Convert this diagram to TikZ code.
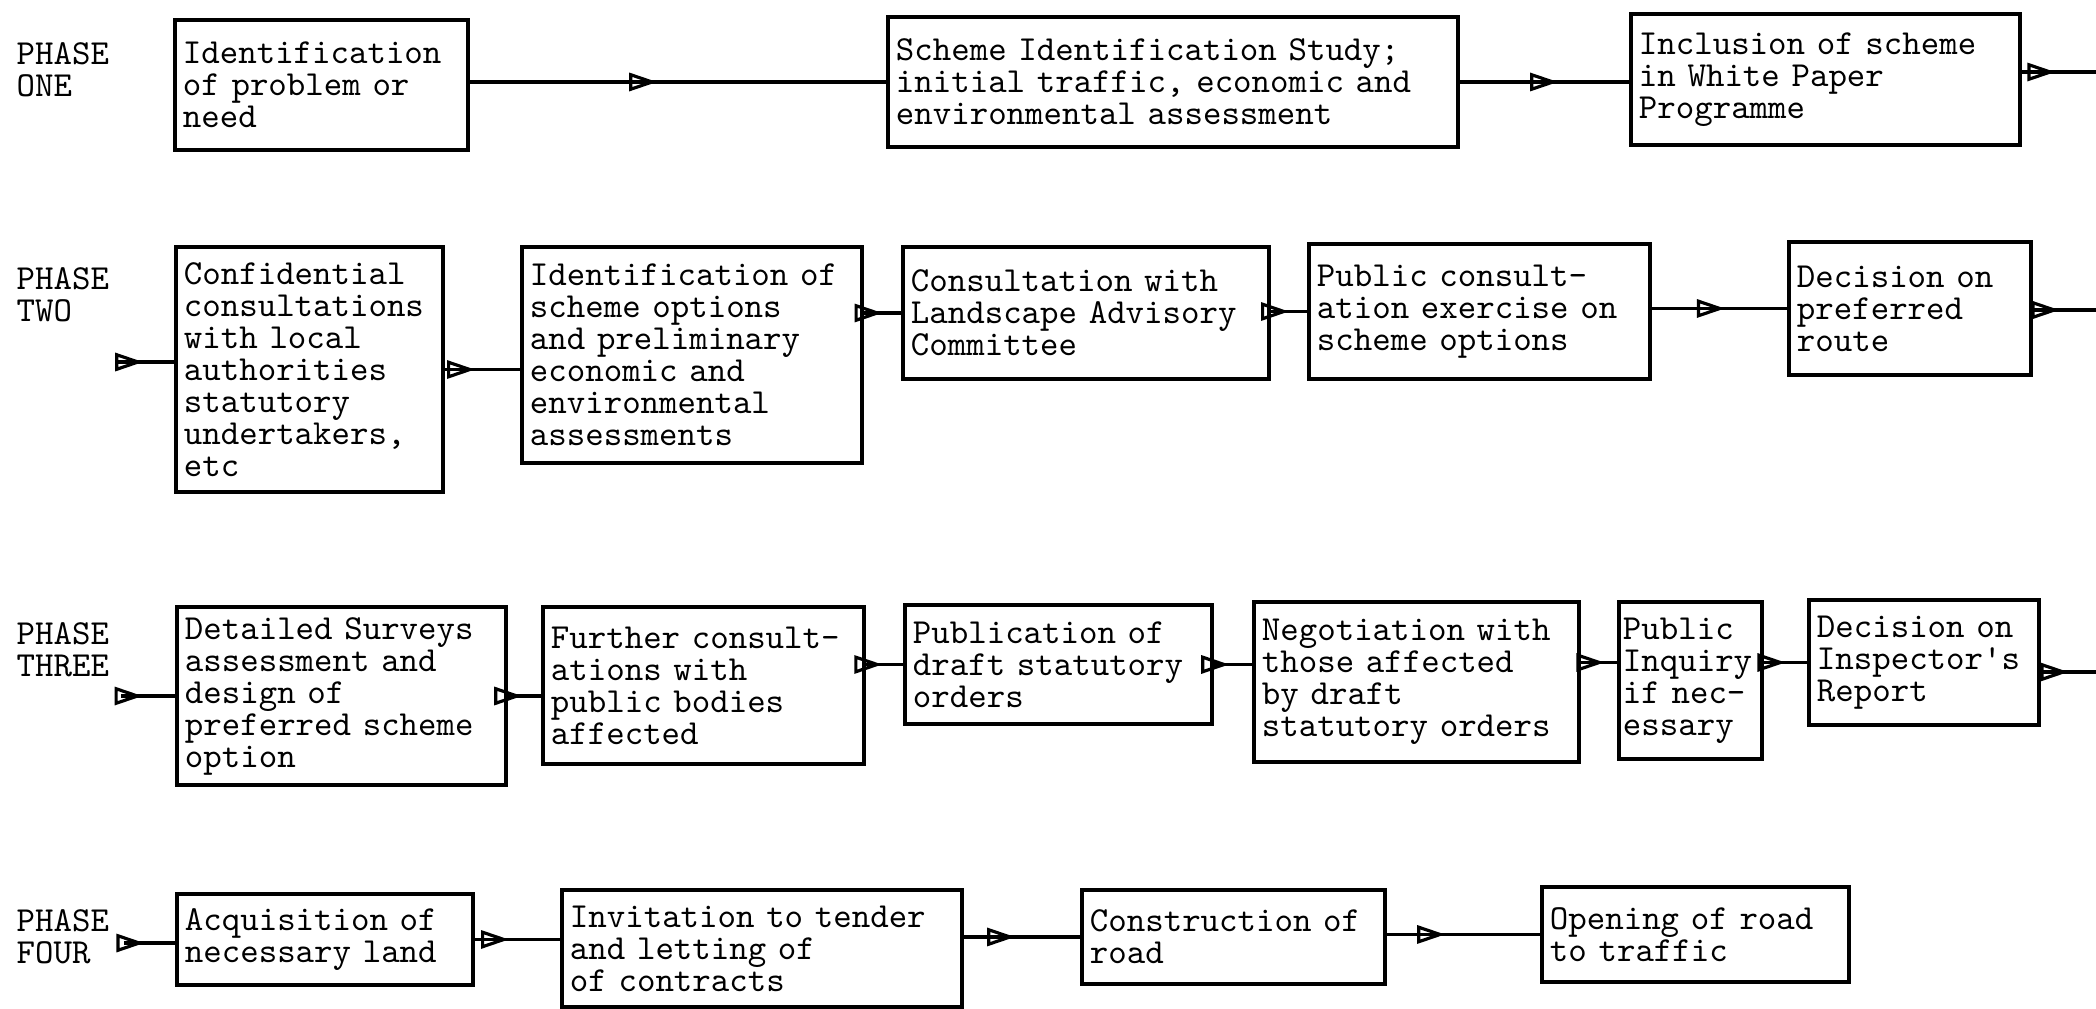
\documentclass[tikz,border=0pt]{standalone}
\usetikzlibrary{arrows.meta,decorations.markings}
\begin{document}
\begin{tikzpicture}[x=0.01cm,y=-0.01cm]
            \tikzset{
                stage box/.style={draw,line width=1.1pt,anchor=north west,align=left,inner xsep=0.08cm,inner ysep=0pt,font=\ttfamily\fontsize{10}{9.1}\selectfont},
                phase label/.style={anchor=north west,inner sep=0pt,align=left,font=\ttfamily\fontsize{10}{9.1}\selectfont},
                flow/.style={line width=1pt,postaction={decorate},decoration={markings,mark=at position #1 with {\arrow{Triangle[open,length=2.8mm,width=1.8mm,line width=0.9pt]}}}}
            }
            \useasboundingbox (0,0) rectangle (2096,1008);
            \node[phase label] (ph1) at (16,42) {PHASE\\ONE};
            \node[phase label] (ph2) at (16,267) {PHASE\\TWO};
            \node[phase label] (ph3) at (16,622) {PHASE\\THREE};
            \node[phase label] (ph4) at (16,909) {PHASE\\FOUR};
            \node[stage box, text width=2.77cm, minimum height=1.30cm] (p1a) at (173,18) {Identification\\of problem or\\need};
            \node[stage box, text width=5.54cm, minimum height=1.30cm] (p1b) at (886,15) {Scheme Identification Study;\\initial traffic, economic and\\environmental assessment};
            \node[stage box, text width=3.73cm, minimum height=1.31cm] (p1c) at (1629,12) {Inclusion of scheme\\in White Paper\\Programme};
            \node[stage box, text width=2.51cm, minimum height=2.45cm] (p2a) at (174,245) {Confidential\\consultations\\with local\\authorities\\statutory\\undertakers,\\etc};
            \node[stage box, text width=3.24cm, minimum height=2.16cm] (p2b) at (520,245) {Identification of\\scheme options\\and preliminary\\economic and\\environmental\\assessments};
            \node[stage box, text width=3.50cm, minimum height=1.32cm] (p2c) at (901,245) {Consultation with\\Landscape Advisory\\Committee};
            \node[stage box, text width=3.25cm, minimum height=1.35cm] (p2d) at (1307,242) {Public consult-\\ation exercise on\\scheme options};
            \node[stage box, text width=2.26cm, minimum height=1.33cm] (p2e) at (1787,240) {Decision on\\preferred\\route};
            \node[stage box, text width=3.13cm, minimum height=1.78cm] (p3a) at (175,605) {Detailed Surveys\\assessment and\\design of\\preferred scheme\\option};
            \node[stage box, text width=3.05cm, minimum height=1.57cm] (p3b) at (541,605) {Further consult-\\ations with\\public bodies\\affected};
            \node[stage box, text width=2.91cm, minimum height=1.19cm] (p3c) at (903,603) {Publication of\\draft statutory\\orders};
            \node[stage box, text width=3.09cm, minimum height=1.60cm] (p3d) at (1252,600) {Negotiation with\\those affected\\by draft\\statutory orders};
            \node[stage box, inner xsep=0.04cm, text width=1.35cm, minimum height=1.57cm] (p3e) at (1617,600) {Public\\Inquiry\\if nec-\\essary};
            \node[stage box, text width=2.14cm, minimum height=1.25cm] (p3f) at (1807,598) {Decision on\\Inspector\textquotesingle s\\Report};
            \node[stage box, text width=2.80cm, minimum height=0.91cm] (p4a) at (175,892) {Acquisition of\\necessary land};
            \node[stage box, text width=3.84cm, minimum height=1.17cm] (p4b) at (560,888) {Invitation to tender\\and letting of\\of contracts};
            \node[stage box, text width=2.87cm, minimum height=0.94cm] (p4c) at (1080,888) {Construction of\\road};
            \node[stage box, text width=2.91cm, minimum height=0.95cm] (p4d) at (1540,885) {Opening of road\\to traffic};
            \coordinate (in2) at (117,362);
            \coordinate (in3) at (121,696);
            \coordinate (in4) at (124,943);
            \coordinate (out1) at (2096,72);
            \coordinate (out2) at (2096,310);
            \coordinate (out3) at (2096,672);
            \draw[flow=0.45] (p1b.west -| p1a.east) -- (p1b.west);
            \draw[flow=0.58] (p1b.east) -- (p1b.east -| p1c.west);
            \draw[flow=0.45] (out1 -| p1c.east) -- (out1);
            \draw[flow=0.46] (in2) -- (in2 -| p2a.west);
            \draw[flow=0.40] (p2a.east) -- (p2a.east -| p2b.west);
            \draw[flow=0.50] (p2c.west -| p2b.east) -- (p2c.west);
            \draw[flow=0.50] (p2d.west -| p2c.east) -- (p2d.west);
            \draw[flow=0.54] (p2e.west -| p2d.east) -- (p2e.west);
            \draw[flow=0.42] (out2 -| p2e.east) -- (out2);
            \draw[flow=0.40] (in3) -- (in3 -| p3a.west);
            \draw[flow=0.43] (p3a.east) -- (p3a.east -| p3b.west);
            \draw[flow=0.44] (p3c.west -| p3b.east) -- (p3c.west);
            \draw[flow=0.40] (p3c.east) -- (p3c.east -| p3d.west);
            \draw[flow=0.65] (p3f.west -| p3d.east) -- (p3f.west -| p3e.west);
            \draw[flow=0.50] (p3f.west -| p3e.east) -- (p3f.west);
            \draw[flow=0.50] (out3 -| p3f.east) -- (out3);
            \draw[flow=0.40] (in4) -- (in4 -| p4a.west);
            \draw[flow=0.40] (p4a.east) -- (p4a.east -| p4b.west);
            \draw[flow=0.44] (p4c.west -| p4b.east) -- (p4c.west);
            \draw[flow=0.38] (p4d.west -| p4c.east) -- (p4d.west);
\end{tikzpicture}
\end{document}
